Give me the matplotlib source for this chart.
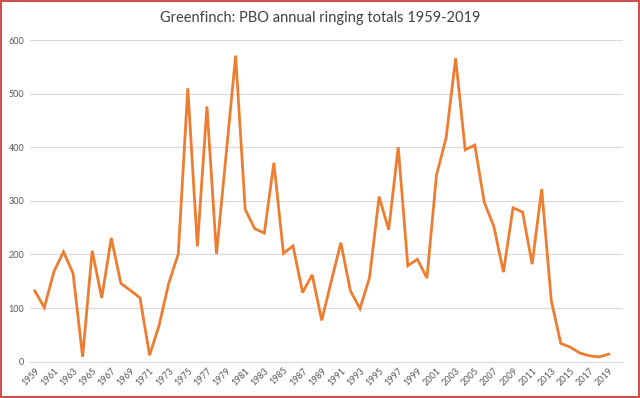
import matplotlib
matplotlib.use("Agg")
import matplotlib.pyplot as plt
from matplotlib.patches import Rectangle

# Greenfinch ringing totals
years = list(range(1959, 2020))
totals = [132, 101, 168, 205, 165, 9, 207, 119, 231, 146,
          133, 119, 12, 68, 146, 201, 510, 215, 476, 201,
          385, 571, 284, 248, 240, 371, 202, 216, 129, 162,
          77, 150, 222, 132, 99, 157, 308, 246, 400, 179,
          191, 156, 348, 417, 566, 395, 404, 297, 252, 167,
          287, 279, 182, 322, 114, 34, 27, 16, 11, 9, 14]
tick_years = years[::2]
y_ticks = [0, 100, 200, 300, 400, 500, 600]
title = "Greenfinch: PBO annual ringing totals 1959-2019"

plt.rcParams['font.family'] = ['Lato', 'DejaVu Sans']

fig = plt.figure(figsize=(6.4, 3.98), dpi=100)
ax = fig.add_axes([30 / 640, 1 - 361.7 / 398, 593 / 640, (361.7 - 40) / 398])

ax.plot(years, totals, color='#ED7D31', linewidth=2.0, solid_joinstyle='miter')

ax.set_xlim(1958.5, 2020.5)
ax.set_ylim(0, 600)
ax.set_yticks(y_ticks)
ax.set_xticks(tick_years)
ax.set_xticklabels([str(y) for y in tick_years], rotation=45, ha='right',
                   rotation_mode='anchor', fontsize=6.5, color='#595959')
ax.set_yticklabels([str(v) for v in y_ticks], fontsize=6.5, color='#595959')
ax.tick_params(axis='both', length=0, pad=4)
ax.tick_params(axis='x', pad=3)

ax.grid(axis='y', color='#D9D9D9', linewidth=0.8)
ax.set_axisbelow(True)
for side in ['top', 'right', 'left']:
    ax.spines[side].set_visible(False)
ax.spines['bottom'].set_color('#D9D9D9')
ax.spines['bottom'].set_linewidth(0.8)

fig.text(0.5, 1 - 18 / 398, title, ha='center', va='center',
         fontsize=10.5, color='#404040')

# thin red frame round the screenshot
fig.patches.append(Rectangle((0.001, 0.002), 0.997, 0.996, transform=fig.transFigure,
                             fill=False, edgecolor='#D0504D', linewidth=1.5))

fig.savefig('out.png', dpi=100)
